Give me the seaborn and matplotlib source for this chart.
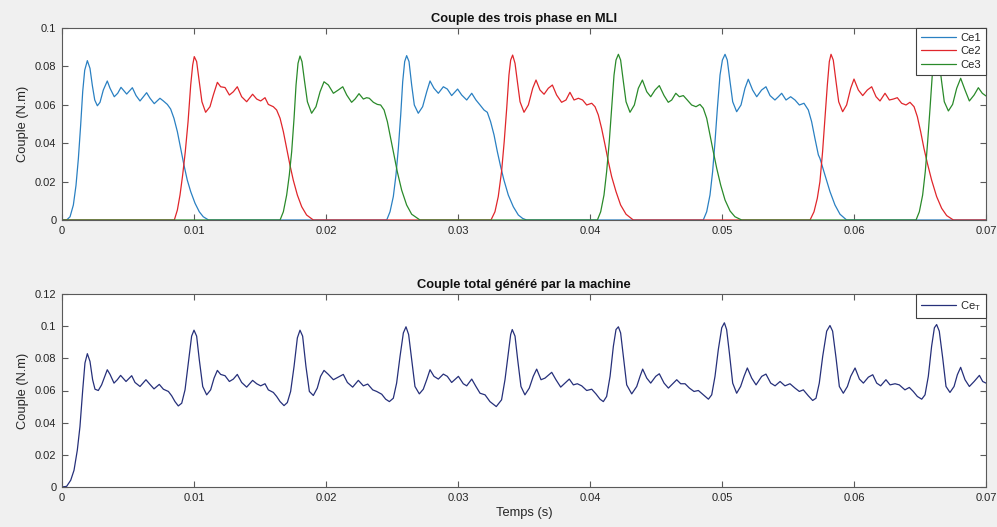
import numpy as np
import pandas as pd
import matplotlib
matplotlib.use("Agg")
import matplotlib.pyplot as plt
import seaborn as sns

# ---------------- data ----------------
ce1_t = [0.0, 0.00035, 0.00061, 0.00086, 0.00106, 0.00124, 0.00141, 0.00157, 0.00172, 0.00192,
         0.00212, 0.00230, 0.00248, 0.00268, 0.00288, 0.00313, 0.00343, 0.00364, 0.00396, 0.00422,
         0.00447, 0.00490, 0.00533, 0.00561, 0.00591, 0.00641, 0.00667, 0.00699, 0.00742, 0.00768,
         0.00798, 0.00823, 0.00848, 0.00874, 0.00899, 0.00924, 0.00949, 0.00975, 0.01008, 0.0104,
         0.0107, 0.0111,
         0.0246, 0.02485, 0.02510, 0.0253, 0.02548, 0.02566, 0.02581, 0.02596, 0.02611, 0.02629,
         0.02649, 0.02669, 0.02699, 0.02732, 0.02763, 0.02788, 0.02818, 0.02851, 0.02889, 0.02919,
         0.02952, 0.02997, 0.03028, 0.03066, 0.03104, 0.03136, 0.03167, 0.03197, 0.03222, 0.03247,
         0.03273, 0.03298, 0.03323, 0.03348, 0.03381, 0.03419, 0.03457, 0.0349, 0.0352,
         0.04858, 0.04884, 0.04909, 0.04929, 0.04947, 0.04965, 0.04985, 0.05003, 0.05023, 0.0504,
         0.05061, 0.05081, 0.05111, 0.05144, 0.05174, 0.05199, 0.05232, 0.05263, 0.0530, 0.05333,
         0.05364, 0.05401, 0.05427, 0.05452, 0.05485, 0.0552, 0.05553, 0.05586, 0.05621, 0.05654,
         0.05679, 0.05704, 0.0573, 0.05742, 0.0578, 0.05818, 0.05856, 0.05894, 0.05944, 0.07]
ce1_v = [0.0, 0.0, 0.0017, 0.0078, 0.018, 0.032, 0.049, 0.067, 0.078, 0.083,
         0.079, 0.070, 0.0625, 0.0595, 0.0613, 0.0677, 0.0724, 0.0686, 0.0642, 0.066,
         0.0691, 0.0656, 0.0689, 0.0648, 0.0620, 0.0663, 0.0634, 0.0606, 0.0634, 0.062,
         0.0602, 0.0578, 0.053, 0.046, 0.0373, 0.0286, 0.0208, 0.0148, 0.0087, 0.0043,
         0.0017, 0.0,
         0.0, 0.0043, 0.0122, 0.0234, 0.0373, 0.0547, 0.072, 0.0825, 0.0856, 0.0825,
         0.0703, 0.0599, 0.0556, 0.059, 0.0668, 0.0724, 0.0686, 0.066, 0.0694, 0.0682,
         0.0648, 0.0682, 0.0651, 0.0625, 0.066, 0.0625, 0.0599, 0.0573, 0.0561, 0.0512,
         0.0443, 0.0356, 0.0278, 0.0208, 0.013, 0.0069, 0.0026, 0.0008, 0.0,
         0.0, 0.0043, 0.013, 0.0252, 0.0408, 0.0582, 0.0755, 0.0833, 0.0863, 0.0833,
         0.072, 0.0616, 0.0564, 0.0599, 0.0686, 0.0733, 0.0677, 0.0642, 0.0677, 0.0694,
         0.0648, 0.0625, 0.0642, 0.066, 0.0625, 0.0642, 0.0625, 0.0599, 0.0608, 0.0573,
         0.0512, 0.0425, 0.0339, 0.0321, 0.0234, 0.0148, 0.0078, 0.003, 0.0, 0.0]

ce2_t = [0.0, 0.00851, 0.00874, 0.00894, 0.00914, 0.00934, 0.00955, 0.00975, 0.0099, 0.01002,
         0.0102, 0.0104, 0.0106, 0.01088, 0.01121, 0.01146, 0.01177, 0.01202, 0.01235, 0.01268,
         0.01298, 0.01328, 0.01361, 0.01399, 0.01444, 0.01475, 0.01505, 0.01538, 0.01563, 0.01601,
         0.01626, 0.01652, 0.01677, 0.01702, 0.01727, 0.01752, 0.01783, 0.01816, 0.01853, 0.01904,
         0.0325, 0.0328, 0.03305, 0.0333, 0.0335, 0.03369, 0.03386, 0.03399, 0.03414, 0.03432,
         0.0345, 0.0347, 0.03500, 0.03533, 0.03566, 0.03591, 0.03621, 0.03652, 0.03684, 0.03715,
         0.03747, 0.03785, 0.03818, 0.03848, 0.03879, 0.03912, 0.03944, 0.03975, 0.04013, 0.04038,
         0.04063, 0.04088, 0.04114, 0.04139, 0.04164, 0.04197, 0.04232, 0.04273, 0.04328,
         0.05667, 0.05697, 0.05722, 0.05742, 0.05762, 0.0578, 0.05798, 0.05813, 0.05826, 0.05843,
         0.05864, 0.05884, 0.05914, 0.05944, 0.05975, 0.0600, 0.06033, 0.06066, 0.06101, 0.06134,
         0.06167, 0.06197, 0.06235, 0.06268, 0.06298, 0.06328, 0.06361, 0.06394, 0.06424, 0.06455,
         0.0648, 0.06505, 0.06530, 0.06556, 0.06588, 0.06626, 0.06664, 0.06702, 0.06753, 0.07]
ce2_v = [0.0, 0.0, 0.0052, 0.013, 0.0234, 0.0356, 0.0512, 0.0703, 0.0807, 0.0851,
         0.0825, 0.072, 0.0616, 0.0561, 0.059, 0.065, 0.0717, 0.0694, 0.069, 0.0651,
         0.0668, 0.0694, 0.0642, 0.0616, 0.0655, 0.063, 0.062, 0.0637, 0.0602, 0.059,
         0.0573, 0.053, 0.046, 0.0373, 0.0286, 0.0208, 0.013, 0.0069, 0.0026, 0.0,
         0.0, 0.0043, 0.0122, 0.0252, 0.0408, 0.0582, 0.0755, 0.0833, 0.0859, 0.0816,
         0.072, 0.0616, 0.0561, 0.0599, 0.0686, 0.0729, 0.0677, 0.0655, 0.0686, 0.0703,
         0.0651, 0.0613, 0.0625, 0.0665, 0.0625, 0.0634, 0.0625, 0.0599, 0.0608, 0.059,
         0.0547, 0.0477, 0.0391, 0.0304, 0.0226, 0.0148, 0.0078, 0.003, 0.0,
         0.0, 0.0043, 0.0113, 0.020, 0.0356, 0.053, 0.0703, 0.0825, 0.0863, 0.0833,
         0.072, 0.0616, 0.0564, 0.0599, 0.0686, 0.0734, 0.0677, 0.0648, 0.0677, 0.0694,
         0.0642, 0.062, 0.066, 0.0625, 0.063, 0.0637, 0.0608, 0.0599, 0.0613, 0.059,
         0.0538, 0.046, 0.0373, 0.0295, 0.0208, 0.0122, 0.0061, 0.0023, 0.0, 0.0]

ce3_t = [0.0, 0.01652, 0.01677, 0.01702, 0.01722, 0.0174, 0.01758, 0.01773, 0.01788, 0.01803,
         0.01818, 0.01838, 0.01859, 0.01891, 0.01924, 0.01955, 0.01985, 0.02018, 0.02056, 0.02093,
         0.02127, 0.02157, 0.02194, 0.0222, 0.0225, 0.02283, 0.02308, 0.02328, 0.02359, 0.02389,
         0.02414, 0.0244, 0.02465, 0.0249, 0.02515, 0.02540, 0.02573, 0.02611, 0.02649, 0.02712,
         0.04056, 0.04081, 0.04106, 0.04126, 0.04146, 0.04164, 0.04182, 0.04197, 0.04215, 0.04232,
         0.04253, 0.04273, 0.04303, 0.04336, 0.04366, 0.04397, 0.0443, 0.0446, 0.04493, 0.04525,
         0.04561, 0.04593, 0.04619, 0.0465, 0.04677, 0.04707, 0.04737, 0.0477, 0.04803, 0.04833,
         0.04858, 0.04884, 0.04909, 0.04934, 0.04960, 0.0499, 0.05023, 0.05061, 0.05098, 0.05149,
         0.0647, 0.06495, 0.0652, 0.0654, 0.06558, 0.06576, 0.06593, 0.06609, 0.06626, 0.06644,
         0.06664, 0.06684, 0.06715, 0.06747, 0.06778, 0.06808, 0.06841, 0.06874, 0.0691, 0.06942,
         0.06972, 0.0700]
ce3_v = [0.0, 0.0, 0.0043, 0.013, 0.0234, 0.0356, 0.053, 0.0703, 0.0816, 0.0854,
         0.0825, 0.072, 0.0616, 0.0556, 0.059, 0.0668, 0.072, 0.0703, 0.066, 0.0677,
         0.0694, 0.0651, 0.0613, 0.063, 0.0658, 0.063, 0.0637, 0.0634, 0.0613, 0.0602,
         0.0599, 0.0573, 0.0512, 0.0425, 0.0339, 0.0252, 0.0156, 0.0078, 0.003, 0.0,
         0.0, 0.0043, 0.013, 0.0252, 0.0408, 0.0582, 0.0755, 0.0833, 0.0863, 0.0833,
         0.072, 0.0616, 0.0561, 0.0599, 0.0686, 0.0729, 0.0668, 0.0642, 0.0677, 0.0700,
         0.0648, 0.0613, 0.0625, 0.066, 0.0642, 0.0648, 0.0625, 0.0599, 0.059, 0.0602,
         0.0582, 0.053, 0.0443, 0.0356, 0.0269, 0.0182, 0.0104, 0.0047, 0.0017, 0.0,
         0.0, 0.0043, 0.013, 0.0252, 0.0408, 0.0582, 0.0755, 0.0833, 0.0863, 0.0833,
         0.072, 0.0616, 0.0568, 0.0602, 0.0686, 0.0738, 0.0677, 0.062, 0.0651, 0.0689,
         0.066, 0.0646]

cet_t = [0.0, 0.00035, 0.00066, 0.00091, 0.00116, 0.00136, 0.00157, 0.00174, 0.00192, 0.00212,
         0.00232, 0.0025, 0.00275, 0.0030, 0.00343, 0.00364, 0.00394, 0.00419, 0.00444, 0.00485,
         0.00528, 0.00553, 0.00591, 0.00636, 0.00662, 0.00697, 0.00737, 0.00768, 0.00806, 0.00831,
         0.00856, 0.00881, 0.00907, 0.00932, 0.00957, 0.00982, 0.0100, 0.0102, 0.0104, 0.01066,
         0.01096, 0.01126, 0.01152, 0.01177, 0.01202, 0.01235, 0.01268, 0.01298, 0.01328, 0.01361,
         0.01399, 0.01444, 0.01475, 0.01505, 0.01538, 0.01563, 0.01601, 0.01626, 0.01652, 0.01682,
         0.01707, 0.01732, 0.01758, 0.01783, 0.01803, 0.01823, 0.01848, 0.01874, 0.01904, 0.01934,
         0.01959, 0.01985, 0.02018, 0.02056, 0.02093, 0.02131, 0.02162, 0.02202, 0.02245, 0.02283,
         0.02316, 0.02354, 0.02384, 0.02422, 0.02452, 0.0248, 0.0251, 0.02535, 0.02561, 0.02586,
         0.02606, 0.02626, 0.02649, 0.02674, 0.02707, 0.02737, 0.02763, 0.02788, 0.02818, 0.02851,
         0.02889, 0.02919, 0.02952, 0.03003, 0.03040, 0.03066, 0.03104, 0.03136, 0.03167, 0.03205,
         0.03242, 0.03290, 0.0333, 0.03356, 0.03381, 0.03399, 0.03411, 0.03432, 0.03452, 0.03477,
         0.03507, 0.0354, 0.0357, 0.03596, 0.03629, 0.03659, 0.0371, 0.03742, 0.03778, 0.03811,
         0.03843, 0.03874, 0.03904, 0.03937, 0.03975, 0.04013, 0.04045, 0.04076, 0.04101, 0.04126,
         0.04152, 0.04177, 0.04197, 0.04215, 0.04232, 0.04253, 0.04278, 0.04316, 0.04354, 0.04379,
         0.04399, 0.0443, 0.0446, 0.04498, 0.04525, 0.04561, 0.04594, 0.04627, 0.04657, 0.04687,
         0.0472, 0.04753, 0.04788, 0.04821, 0.04859, 0.04897, 0.04922, 0.04947, 0.04972, 0.04998,
         0.05018, 0.05035, 0.05056, 0.05081, 0.05111, 0.05141, 0.05167, 0.05192, 0.05225, 0.05258,
         0.05301, 0.05333, 0.05369, 0.05402, 0.0544, 0.05477, 0.05515, 0.05553, 0.05586, 0.05616,
         0.05654, 0.05687, 0.05712, 0.05737, 0.05763, 0.05793, 0.05818, 0.05838, 0.05864, 0.05889,
         0.05919, 0.0595, 0.05975, 0.06008, 0.06041, 0.06071, 0.06109, 0.06142, 0.06172, 0.06202,
         0.06242, 0.06273, 0.06311, 0.06343, 0.06386, 0.06419, 0.06449, 0.0648, 0.06513, 0.06538,
         0.06563, 0.06588, 0.06609, 0.06626, 0.06646, 0.06672, 0.06697, 0.06727, 0.06758, 0.06783,
         0.06808, 0.06841, 0.06874, 0.0691, 0.0695, 0.06975, 0.0700]
cet_v = [0.0, 0.0004, 0.0042, 0.0104, 0.0229, 0.0375, 0.0604, 0.0771, 0.0829, 0.0781,
         0.0667, 0.0608, 0.0600, 0.0635, 0.0729, 0.0700, 0.0646, 0.0667, 0.0694, 0.0656,
         0.0692, 0.0650, 0.0625, 0.0667, 0.0642, 0.0610, 0.0638, 0.0608, 0.0594, 0.0567,
         0.0531, 0.0504, 0.0521, 0.0604, 0.0771, 0.0938, 0.0975, 0.0938, 0.0792, 0.0625,
         0.0573, 0.0604, 0.0677, 0.0725, 0.0700, 0.0692, 0.0656, 0.0671, 0.0700, 0.0650,
         0.0621, 0.0663, 0.0642, 0.0629, 0.0642, 0.0604, 0.0588, 0.0563, 0.0531, 0.0506,
         0.0525, 0.0594, 0.0750, 0.0927, 0.0975, 0.0938, 0.0750, 0.0594, 0.0569, 0.0615,
         0.0688, 0.0725, 0.0700, 0.0667, 0.0683, 0.0700, 0.0650, 0.0621, 0.0663, 0.0629,
         0.0640, 0.0604, 0.0594, 0.0577, 0.0546, 0.0531, 0.0552, 0.0646, 0.0813, 0.0958,
         0.0996, 0.0948, 0.0792, 0.0625, 0.0579, 0.0608, 0.0667, 0.0729, 0.0688, 0.0671,
         0.0702, 0.0688, 0.0650, 0.0688, 0.0642, 0.0629, 0.0671, 0.0625, 0.0583, 0.0573,
         0.0531, 0.0500, 0.0542, 0.0667, 0.0833, 0.0948, 0.0979, 0.0938, 0.0792, 0.0625,
         0.0573, 0.0615, 0.0688, 0.0733, 0.0667, 0.0677, 0.0713, 0.0667, 0.0621, 0.0646,
         0.0671, 0.0635, 0.0642, 0.0629, 0.0600, 0.0608, 0.0579, 0.0546, 0.0531, 0.0563,
         0.0688, 0.0875, 0.0979, 0.0996, 0.0958, 0.0813, 0.0635, 0.0579, 0.0625, 0.0688,
         0.0733, 0.0677, 0.0646, 0.0688, 0.0704, 0.0646, 0.0615, 0.0642, 0.0667, 0.0642,
         0.0642, 0.0615, 0.0594, 0.0600, 0.0573, 0.0546, 0.0573, 0.0688, 0.0854, 0.0990,
         0.1021, 0.0979, 0.0833, 0.0646, 0.0583, 0.0625, 0.0688, 0.0740, 0.0677, 0.0635,
         0.0688, 0.0702, 0.0646, 0.0629, 0.0656, 0.0629, 0.0642, 0.0615, 0.0594, 0.0604,
         0.0567, 0.0538, 0.0552, 0.0646, 0.0813, 0.0969, 0.1004, 0.0969, 0.0802, 0.0625,
         0.0583, 0.0625, 0.0688, 0.0740, 0.0671, 0.0646, 0.0683, 0.0698, 0.0646, 0.0629,
         0.0667, 0.0635, 0.0642, 0.0635, 0.0604, 0.0619, 0.0594, 0.0563, 0.0546, 0.0573,
         0.0688, 0.0875, 0.0990, 0.1010, 0.0969, 0.0802, 0.0625, 0.0588, 0.0625, 0.0698,
         0.0744, 0.0667, 0.0625, 0.0656, 0.0694, 0.0656, 0.0646]

x_ticks = [0.0, 0.01, 0.02, 0.03, 0.04, 0.05, 0.06, 0.07]
x_tick_labels = ["0", "0.01", "0.02", "0.03", "0.04", "0.05", "0.06", "0.07"]
y1_ticks = [0.0, 0.02, 0.04, 0.06, 0.08, 0.1]
y1_tick_labels = ["0", "0.02", "0.04", "0.06", "0.08", "0.1"]
y2_ticks = [0.0, 0.02, 0.04, 0.06, 0.08, 0.1, 0.12]
y2_tick_labels = ["0", "0.02", "0.04", "0.06", "0.08", "0.1", "0.12"]

title_top = "Couple des trois phase en MLI"
title_bottom = "Couple total généré par la machine"
ylabel = "Couple (N.m)"
xlabel = "Temps (s)"

# ---------------- style ----------------
sns.set_style("ticks")
plt.rcParams["font.family"] = ["Liberation Sans", "DejaVu Sans"]
plt.rcParams["mathtext.default"] = "regular"
plt.rcParams["axes.linewidth"] = 0.8

BG = "#f0f0f0"
SPINE = "#5a5a5a"
TXT = "#262626"

fig = plt.figure(figsize=(9.97, 5.27), dpi=100, facecolor=BG)
ax1 = fig.add_axes([62 / 997, 1 - 220 / 527, 924 / 997, 192 / 527])
ax2 = fig.add_axes([62 / 997, 1 - 487 / 527, 924 / 997, 193 / 527])

sns.lineplot(x=ce1_t, y=ce1_v, ax=ax1, color="#2a80c2", lw=0.9, label="Ce1", sort=False, estimator=None)
sns.lineplot(x=ce2_t, y=ce2_v, ax=ax1, color="#e0262b", lw=0.9, label="Ce2", sort=False, estimator=None)
sns.lineplot(x=ce3_t, y=ce3_v, ax=ax1, color="#2a8a2a", lw=0.9, label="Ce3", sort=False, estimator=None)
sns.lineplot(x=cet_t, y=cet_v, ax=ax2, color="#26307a", lw=0.9, label="Ce$_{T}$", sort=False, estimator=None)

for ax, yt, ytl, ymax in ((ax1, y1_ticks, y1_tick_labels, 0.1), (ax2, y2_ticks, y2_tick_labels, 0.12)):
    ax.set_facecolor("white")
    ax.set_xlim(0, 0.07)
    ax.set_ylim(0, ymax)
    ax.set_xticks(x_ticks)
    ax.set_xticklabels(x_tick_labels)
    ax.set_yticks(yt)
    ax.set_yticklabels(ytl)
    ax.tick_params(direction="in", length=4.5, width=0.8, colors=SPINE, labelcolor=TXT,
                   labelsize=8, top=True, right=True, pad=4)
    for s in ax.spines.values():
        s.set_visible(True)
        s.set_color(SPINE)
        s.set_linewidth(0.8)
    ax.set_ylabel(ylabel, fontsize=9.3, color=TXT, labelpad=4)
    leg = ax.legend(loc="upper right", borderaxespad=0, fancybox=False, framealpha=1,
                    edgecolor="#404040", fontsize=8, handlelength=3.1, handletextpad=0.4,
                    borderpad=0.45, labelspacing=0.3)
    leg.get_frame().set_linewidth(0.8)
    for txt in leg.get_texts():
        txt.set_color(TXT)

ax1.set_xlabel("")
ax1.set_title(title_top, fontsize=9.3, fontweight="bold", color="#111111", pad=4)
ax2.set_title(title_bottom, fontsize=9.3, fontweight="bold", color="#111111", pad=4)
ax2.set_xlabel(xlabel, fontsize=9.3, color=TXT, labelpad=3)

fig.savefig("out.png", dpi=100, facecolor=BG)
